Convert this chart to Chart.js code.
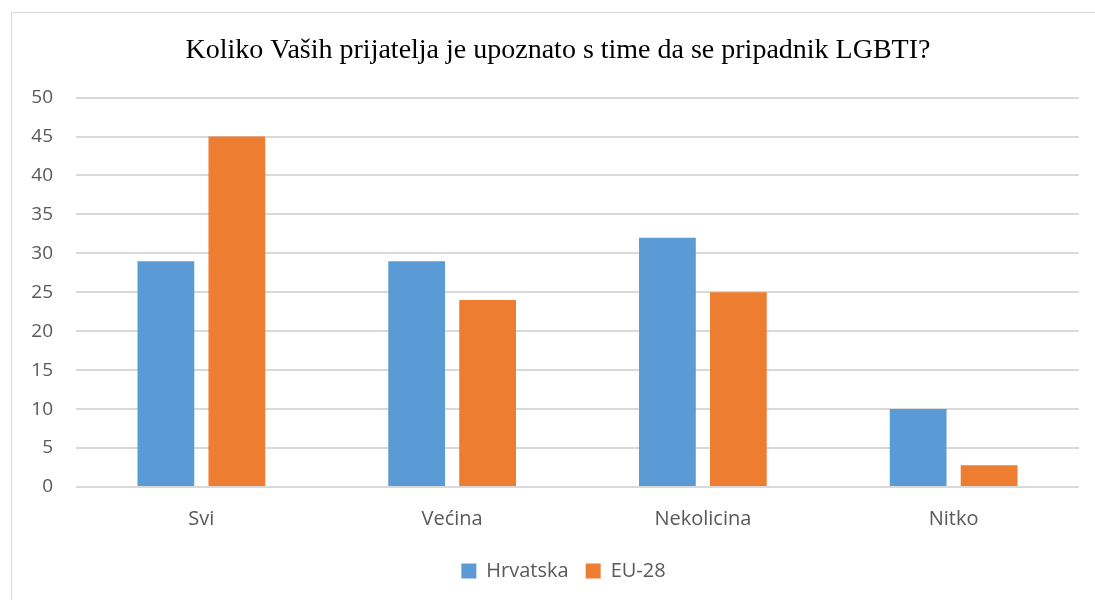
<!DOCTYPE html>
<html>
<head>
<meta charset="utf-8">
<script src="https://cdn.jsdelivr.net/npm/chart.js@4"></script>
<style>
  html,body{margin:0;padding:0;background:#fff;overflow:hidden}
  .frame{position:absolute;left:11px;top:12px;width:1092px;height:600px;border-top:1px solid #d9d9d9;border-left:1px solid #d9d9d9}
  .frame canvas{display:block}
</style>
</head>
<body>
<div class="frame"><canvas id="myChart" width="1092" height="588"></canvas></div>
<script>
const title='Koliko Vaših prijatelja je upoznato s time da se pripadnik LGBTI?'
const categories=['Svi','Većina','Nekolicina','Nitko']
const hrvatska=[29,29,32,10]
const eu28=[45,24,25,2.8]
const yTicks=[0,5,10,15,20,25,30,35,40,45,50]

const sans='"Open Sans", "Noto Sans", sans-serif'

// title and legend in the original sit a bit right of the plot centre
const shiftBlocks={
  id:'shiftBlocks',
  beforeDraw(chart){
    const t=chart.titleBlock
    if(t) t.left=t.left+25
    const l=chart.legend
    if(l) l.left=l.left+36
  }
}

function loadChart(){
  Chart.defaults.color='#595959'
  const ctx=document.getElementById('myChart')
  new Chart(ctx,{
    type:'bar',
    data:{
      labels:categories,
      datasets:[
        {label:'Hrvatska',data:hrvatska,backgroundColor:'#5B9BD5',categoryPercentage:0.566,barPercentage:0.8},
        {label:'EU-28',data:eu28,backgroundColor:'#ED7D31',categoryPercentage:0.566,barPercentage:0.8}
      ]
    },
    plugins:[shiftBlocks],
    options:{
      responsive:false,
      animation:false,
      layout:{padding:{left:0,right:25,top:0,bottom:10}},
      plugins:{
        title:{
          display:true,
          text:title,
          color:'#000',
          font:{family:'"Liberation Serif", "Times New Roman", serif',size:28,weight:'normal'},
          padding:{top:21,bottom:30}
        },
        legend:{
          position:'bottom',
          labels:{boxWidth:15,boxHeight:15,padding:17,font:{family:sans,size:20},color:'#595959'}
        },
        tooltip:{enabled:false}
      },
      scales:{
        x:{
          grid:{display:false},
          border:{display:false},
          afterFit:axis=>{axis.height=57},
          ticks:{font:{family:sans,size:20},padding:12}
        },
        y:{
          min:0,max:50,
          afterBuildTicks:axis=>{axis.ticks=yTicks.map(v=>({value:v}))},
          afterFit:axis=>{axis.width=64},
          grid:{color:'#d9d9d9',lineWidth:2,drawTicks:false},
          border:{display:false},
          ticks:{font:{family:sans,size:19},padding:23}
        }
      }
    }
  })
}
loadChart()
</script>
</body>
</html>
